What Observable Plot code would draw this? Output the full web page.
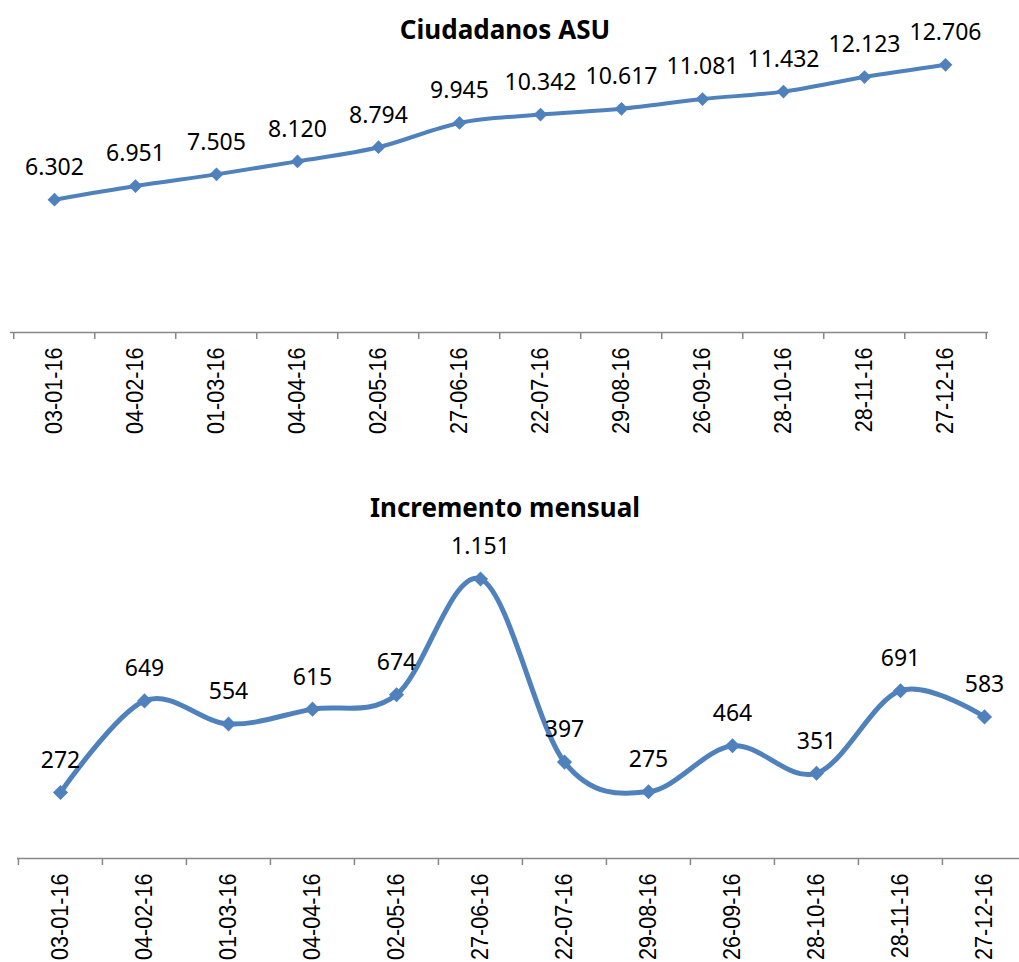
<!DOCTYPE html>
<html><head><meta charset="utf-8">
<script src="https://cdn.jsdelivr.net/npm/d3@7"></script>
<script src="https://cdn.jsdelivr.net/npm/@observablehq/plot@0.6"></script>
<style>
body{margin:0;background:#fff;}
#wrap{position:relative;width:1019px;height:962px;overflow:hidden;background:#fff;}
.title{position:absolute;left:0;width:1010px;text-align:center;font-family:"Noto Sans",sans-serif;font-weight:bold;font-size:26px;line-height:26px;color:#000;}
#wrap svg{position:absolute;left:0;overflow:visible;}
</style></head><body>
<div id="wrap">
  <div class="title" id="t1" style="top:16px">Ciudadanos ASU</div>
  <div class="title" id="t2" style="top:494px">Incremento mensual</div>
</div>
<script>
const fechas = ["03-01-16","04-02-16","01-03-16","04-04-16","02-05-16","27-06-16","22-07-16","29-08-16","26-09-16","28-10-16","28-11-16","27-12-16"];
const ciudadanos = [6302, 6951, 7505, 8120, 8794, 9945, 10342, 10617, 11081, 11432, 12123, 12706];
const incremento = [272, 649, 554, 615, 674, 1151, 397, 275, 464, 351, 691, 583];

const fmt = d3.formatLocale({decimal: ",", thousands: ".", grouping: [3], currency: ["", ""]}).format(",d");
const azul = "#4F81BD";
const gris = "#888888";

function chart({values, height, marginLeft, marginRight, marginTop, marginBottom, xRange, yMax, lineWidth, r, top}) {
  const data = fechas.map((f, i) => ({fecha: f, valor: values[i]}));
  const step = (xRange[1] - xRange[0]) / fechas.length;
  const svg = Plot.plot({
    width: 1019,
    height,
    marginLeft, marginRight, marginTop, marginBottom,
    style: {fontFamily: "'Liberation Sans', Arial, sans-serif", background: "transparent", overflow: "visible"},
    x: {type: "point", domain: fechas, range: xRange, padding: 0.5},
    y: {domain: [0, yMax], axis: null},
    marks: [
      Plot.ruleY([0], {stroke: gris, strokeWidth: 1.5}),
      Plot.ruleX(fechas, {x: d => d, y1: 0, y2: 0, insetBottom: -7, dx: -step / 2, stroke: gris, strokeWidth: 1.5}),
      Plot.ruleX(fechas.slice(-1), {x: d => d, y1: 0, y2: 0, insetBottom: -7, dx: step / 2, stroke: gris, strokeWidth: 1.5}),
      Plot.axisX({tickRotate: -90, tickSize: 0, tickPadding: 15, fontSize: 24, fontFamily: "'Liberation Sans', Arial, sans-serif", fill: "#000", label: null}),
      Plot.line(data, {x: "fecha", y: "valor", stroke: azul, strokeWidth: lineWidth, curve: "cardinal", tension: 0}),
      Plot.dot(data, {x: "fecha", y: "valor", symbol: "diamond2", r, fill: azul, stroke: "none"}),
      Plot.text(data, {x: "fecha", y: "valor", text: d => fmt(d.valor), dy: -32, fontSize: 23, fontFamily: "'Noto Sans', sans-serif", fill: "#000"})
    ]
  });
  // condense the rotated tick labels along their reading direction
  d3.select(svg).selectAll('g[aria-label="x-axis tick label"] text').each(function() {
    const t = this.getAttribute("transform") || "";
    this.setAttribute("transform", t + " scale(0.9,1)");
  });
  svg.style.top = top + "px";
  document.getElementById("wrap").appendChild(svg);
}

chart({values: ciudadanos, height: 470, marginLeft: 10, marginRight: 31, marginTop: 37, marginBottom: 138, xRange: [10, 988], yMax: 14000, lineWidth: 4, r: 6.2, top: 0});
chart({values: incremento, height: 492, marginLeft: 17, marginRight: 0, marginTop: 48, marginBottom: 104, xRange: [17, 1027], yMax: 1400, lineWidth: 5, r: 6.8, top: 470});
</script>
</body></html>
